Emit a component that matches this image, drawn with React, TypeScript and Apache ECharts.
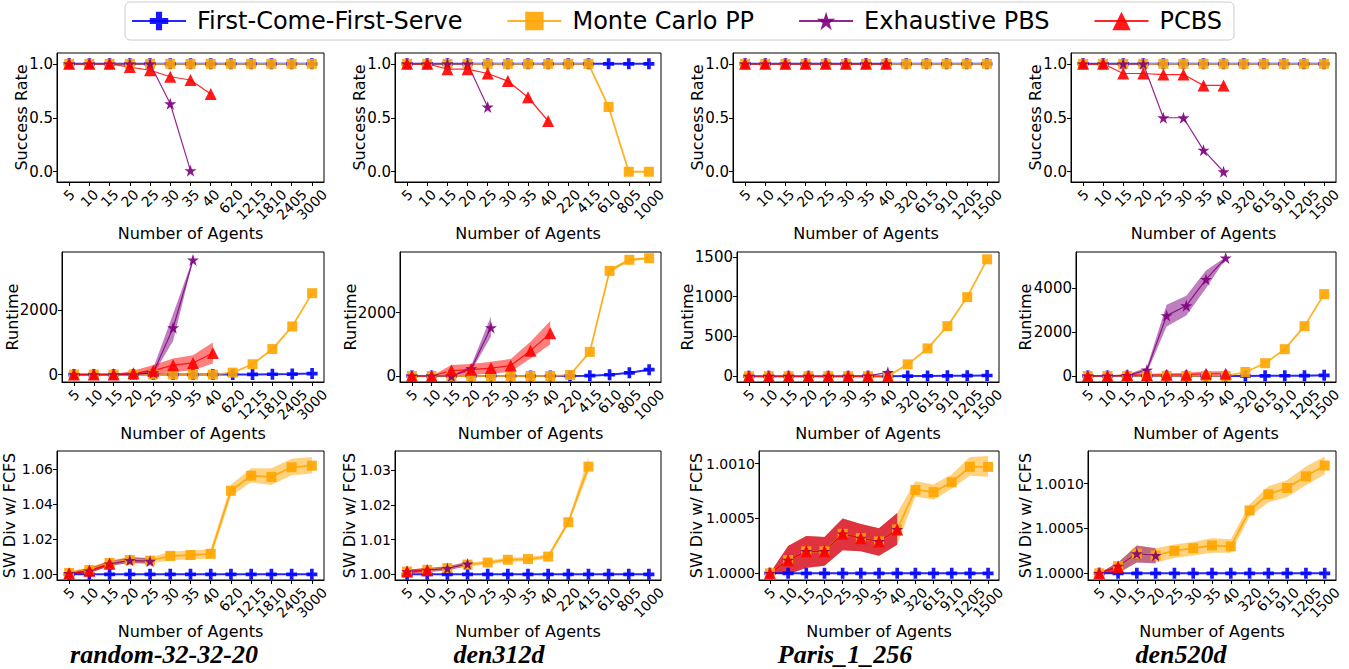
import React, { useEffect, useRef } from 'react';
import * as echarts from 'echarts';

// ---------- legend / method names ----------
const methodNames = ['First-Come-First-Serve', 'Monte Carlo PP', 'Exhaustive PBS', 'PCBS'];
const mapTitles = ['random-32-32-20', 'den312d', 'Paris_1_256', 'den520d'];

// ---------- x tick labels ----------
const xRandom = ['5', '10', '15', '20', '25', '30', '35', '40', '620', '1215', '1810', '2405', '3000'];
const xDen312d = ['5', '10', '15', '20', '25', '30', '35', '40', '220', '415', '610', '805', '1000'];
const xParis = ['5', '10', '15', '20', '25', '30', '35', '40', '320', '615', '910', '1205', '1500'];
const xDen520d = ['5', '10', '15', '20', '25', '30', '35', '40', '320', '615', '910', '1205', '1500'];

// ---------- y tick values ----------
const ySuccessTicks = [0, 0.5, 1.0];
const yRtRandomTicks = [0, 2000];
const yRtDen312dTicks = [0, 2000];
const yRtParisTicks = [0, 500, 1000, 1500];
const yRtDen520dTicks = [0, 2000, 4000];
const ySwRandomTicks = [1.0, 1.02, 1.04, 1.06];
const ySwDen312dTicks = [1.0, 1.01, 1.02, 1.03];
const ySwParisTicks = [1.0, 1.0005, 1.001];
const ySwDen520dTicks = [1.0, 1.0005, 1.001];

// ---------- Success rate ----------
const srRandomFCFS = [1, 1, 1, 1, 1, 1, 1, 1, 1, 1, 1, 1, 1];
const srRandomMCPP = [1, 1, 1, 1, 1, 1, 1, 1, 1, 1, 1, 1, 1];
const srRandomPBS = [1, 1, 1, 1, 1, 0.63, 0.01];
const srRandomPCBS = [1, 1, 1, 0.97, 0.94, 0.88, 0.85, 0.72];

const srDen312dFCFS = [1, 1, 1, 1, 1, 1, 1, 1, 1, 1, 1, 1, 1];
const srDen312dMCPP = [1, 1, 1, 1, 1, 1, 1, 1, 1, 1, 0.6, 0, 0];
const srDen312dPBS = [1, 1, 1, 1, 0.6];
const srDen312dPCBS = [1, 1, 0.95, 0.95, 0.91, 0.84, 0.69, 0.47];

const srParisFCFS = [1, 1, 1, 1, 1, 1, 1, 1, 1, 1, 1, 1, 1];
const srParisMCPP = [1, 1, 1, 1, 1, 1, 1, 1, 1, 1, 1, 1, 1];
const srParisPBS = [1, 1, 1, 1, 1, 1, 1, 1];
const srParisPCBS = [1, 1, 1, 1, 1, 1, 1, 1];

const srDen520dFCFS = [1, 1, 1, 1, 1, 1, 1, 1, 1, 1, 1, 1, 1];
const srDen520dMCPP = [1, 1, 1, 1, 1, 1, 1, 1, 1, 1, 1, 1, 1];
const srDen520dPBS = [1, 1, 1, 1, 0.5, 0.5, 0.2, 0.0];
const srDen520dPCBS = [1, 1, 0.91, 0.91, 0.9, 0.9, 0.8, 0.8];

// ---------- Runtime ----------
const rtRandomFCFS = [0, 0, 0, 0, 0, 0, 0, 0, 2, 5, 10, 15, 30];
const rtRandomMCPP = [0, 0, 0, 0, 0, 0, 0, 0, 60, 320, 790, 1490, 2520];
const rtRandomPBS = [0, 0, 0, 0, 60, 1450, 3550];
const rtRandomPBSLo = [0, 0, 0, 0, 0, 1050, 3520];
const rtRandomPBSHi = [0, 0, 0, 0, 200, 1880, 3590];
const rtRandomPCBS = [0, 0, 0, 40, 120, 290, 360, 670];
const rtRandomPCBSLo = [0, 0, 0, 0, 0, 80, 130, 340];
const rtRandomPCBSHi = [0, 0, 20, 120, 300, 500, 600, 990];

const rtDen312dFCFS = [0, 0, 0, 0, 0, 0, 0, 0, 0, 10, 40, 100, 200];
const rtDen312dMCPP = [0, 0, 0, 0, 0, 0, 0, 0, 30, 760, 3320, 3670, 3720];
const rtDen312dMCPPLo = [0, 0, 0, 0, 0, 0, 0, 0, 20, 740, 3250, 3630, 3690];
const rtDen312dMCPPHi = [0, 0, 0, 0, 0, 0, 0, 0, 40, 780, 3390, 3710, 3760];
const rtDen312dPBS = [0, 0, 0, 230, 1530];
const rtDen312dPBSLo = [0, 0, 0, 150, 1250];
const rtDen312dPBSHi = [0, 0, 0, 330, 1880];
const rtDen312dPCBS = [0, 0, 170, 200, 250, 330, 800, 1350];
const rtDen312dPCBSLo = [0, 0, 0, 30, 80, 130, 550, 1000];
const rtDen312dPCBSHi = [0, 0, 350, 380, 450, 540, 1080, 1740];

const rtParisFCFS = [0, 0, 0, 0, 0, 0, 0, 0, 2, 4, 6, 8, 10];
const rtParisMCPP = [0, 0, 0, 0, 0, 0, 0, 0, 150, 350, 630, 995, 1470];
const rtParisPBS = [0, 0, 0, 0, 0, 0, 5, 50];
const rtParisPCBS = [0, 0, 0, 0, 0, 0, 0, 0];

const rtDen520dFCFS = [0, 0, 0, 0, 0, 0, 0, 0, 0, 5, 10, 15, 30];
const rtDen520dMCPP = [0, 0, 0, 0, 0, 0, 0, 0, 180, 580, 1220, 2270, 3730];
const rtDen520dPBS = [0, 0, 30, 270, 2750, 3200, 4400, 5380];
const rtDen520dPBSLo = [0, 0, 0, 150, 2250, 2750, 4000, 5340];
const rtDen520dPBSHi = [0, 0, 60, 400, 3250, 3650, 4800, 5420];
const rtDen520dPCBS = [0, 0, 40, 40, 50, 60, 100, 100];
const rtDen520dPCBSLo = [0, 0, 0, 0, 0, 0, 0, 0];
const rtDen520dPCBSHi = [0, 0, 100, 100, 120, 150, 220, 220];

// ---------- SW Div w/ FCFS ----------
const swRandomFCFS = [1, 1, 1, 1, 1, 1, 1, 1, 1, 1, 1, 1, 1];
const swRandomMCPP = [1.0008, 1.0025, 1.0065, 1.0082, 1.0078, 1.0105, 1.011, 1.0117, 1.0477, 1.0563, 1.0556, 1.0611, 1.062];
const swRandomMCPPLo = [0.9998, 1.001, 1.005, 1.0064, 1.0062, 1.008, 1.0085, 1.009, 1.0445, 1.0525, 1.051, 1.0565, 1.0575];
const swRandomMCPPHi = [1.0018, 1.004, 1.008, 1.01, 1.0094, 1.013, 1.0135, 1.0144, 1.0512, 1.0605, 1.0605, 1.066, 1.067];
const swRandomPBS = [1.0005, 1.002, 1.006, 1.008, 1.0075];
const swRandomPBSLo = [0.9998, 1.0008, 1.0048, 1.0064, 1.006];
const swRandomPBSHi = [1.0012, 1.0035, 1.0075, 1.0098, 1.0092];
const swRandomPCBS = [1.0005, 1.002, 1.006];
const swRandomPCBSLo = [0.9998, 1.0008, 1.0048];
const swRandomPCBSHi = [1.0012, 1.0035, 1.0075];

const swDen312dFCFS = [1, 1, 1, 1, 1, 1, 1, 1, 1, 1, 1, 1, 1];
const swDen312dMCPP = [1.0008, 1.0013, 1.0018, 1.0028, 1.0034, 1.0042, 1.0044, 1.0051, 1.015, 1.031];
const swDen312dMCPPLo = [1.0003, 1.0008, 1.0013, 1.0023, 1.0028, 1.0036, 1.0038, 1.0045, 1.0143, 1.0293];
const swDen312dMCPPHi = [1.0013, 1.0018, 1.0023, 1.0033, 1.004, 1.0048, 1.005, 1.0057, 1.0157, 1.0338];
const swDen312dPBS = [1.0008, 1.0012, 1.0017, 1.003];
const swDen312dPBSLo = [1.0003, 1.0006, 1.0011, 1.0024];
const swDen312dPBSHi = [1.0013, 1.0018, 1.0023, 1.0036];
const swDen312dPCBS = [1.0008, 1.0012];
const swDen312dPCBSLo = [1.0003, 1.0006];
const swDen312dPCBSHi = [1.0013, 1.0018];

const swParisFCFS = [1, 1, 1, 1, 1, 1, 1, 1, 1, 1, 1, 1, 1];
const swParisMCPP = [1.0, 1.00012, 1.0002, 1.0002, 1.00036, 1.00032, 1.00029, 1.0004, 1.00076, 1.00074, 1.00083, 1.00097, 1.00097];
const swParisMCPPLo = [1.0, 0.99999, 1.00005, 1.00007, 1.00021, 1.0002, 1.00016, 1.00026, 1.0007, 1.00067, 1.00077, 1.00089, 1.00088];
const swParisMCPPHi = [1.0, 1.00025, 1.00034, 1.00033, 1.0005, 1.00045, 1.00041, 1.00055, 1.00084, 1.00081, 1.0009, 1.00106, 1.00107];
const swParisPBS = [1.0, 1.00012, 1.0002, 1.0002, 1.00036, 1.00032, 1.00029, 1.0004];
const swParisPBSLo = [1.0, 0.99999, 1.00005, 1.00007, 1.00021, 1.0002, 1.00016, 1.00026];
const swParisPBSHi = [1.0, 1.00025, 1.00034, 1.00033, 1.0005, 1.00045, 1.00041, 1.00055];
const swParisPCBS = [1.0, 1.00012, 1.0002, 1.0002, 1.00036, 1.00032, 1.00029, 1.0004];
const swParisPCBSLo = [1.0, 0.99999, 1.00005, 1.00007, 1.00021, 1.0002, 1.00016, 1.00026];
const swParisPCBSHi = [1.0, 1.00025, 1.00034, 1.00033, 1.0005, 1.00045, 1.00041, 1.00055];

const swDen520dFCFS = [1, 1, 1, 1, 1, 1, 1, 1, 1, 1, 1, 1, 1];
const swDen520dMCPP = [1.0, 1.00008, 1.00022, 1.0002, 1.00025, 1.00028, 1.00031, 1.0003, 1.0007, 1.00088, 1.00095, 1.00108, 1.0012];
const swDen520dMCPPLo = [1.0, 1.0, 1.00012, 1.00012, 1.00017, 1.0002, 1.00023, 1.00023, 1.00063, 1.00079, 1.00085, 1.00098, 1.0011];
const swDen520dMCPPHi = [1.0, 1.00012, 1.00031, 1.00028, 1.00032, 1.00035, 1.00039, 1.00038, 1.00077, 1.00097, 1.00104, 1.00119, 1.0013];
const swDen520dPBS = [1.0, 1.00008, 1.00022, 1.0002];
const swDen520dPBSLo = [1.0, 1.0, 1.00012, 1.00011];
const swDen520dPBSHi = [1.0, 1.00012, 1.00031, 1.00028];
const swDen520dPCBS = [1.0, 1.00007];
const swDen520dPCBSLo = [1.0, 1.0];
const swDen520dPCBSHi = [1.0, 1.00012];

// ---------- styling ----------
const COLORS = ['#0000ff', '#ffa500', '#800080', '#ff0000'];
const PLUS = 'path://M1,0H2V1H3V2H2V3H1V2H0V1H1Z';
const STAR = 'path://M1,0L1.2233,0.6926L1.9511,0.691L1.3614,1.1174L1.5878,1.809L1,1.38L0.4122,1.809L0.6386,1.1174L0.0489,0.691L0.7767,0.6926Z';
const SYMBOLS = [PLUS, 'rect', STAR, 'triangle'];
const SYMBOL_SIZES = [11, 10, 12, 12];
const LINE_WIDTHS = [2, 1.8, 1.2, 1.2];
const FONT = 'DejaVu Sans';

type S = { mean: number[]; lo?: number[]; hi?: number[] };
type Panel = {
  x: string[];
  s: S[];
  yMin: number;
  yMax: number;
  yTicks: number[];
  dec: number;
  yName: string;
  box: [number, number, number, number]; // left, top, right, bottom
  nameGap: number;
  xNameGap: number;
};

const panels: Panel[] = [
  // row 1: success rate
  { x: xRandom, s: [{ mean: srRandomFCFS }, { mean: srRandomMCPP }, { mean: srRandomPBS }, { mean: srRandomPCBS }], yMin: -0.095, yMax: 1.1, yTicks: ySuccessTicks, dec: 1, yName: 'Success Rate', box: [57, 53, 324, 182], nameGap: 28, xNameGap: 39 },
  { x: xDen312d, s: [{ mean: srDen312dFCFS }, { mean: srDen312dMCPP }, { mean: srDen312dPBS }, { mean: srDen312dPCBS }], yMin: -0.095, yMax: 1.1, yTicks: ySuccessTicks, dec: 1, yName: 'Success Rate', box: [395, 53, 661, 182], nameGap: 28, xNameGap: 39 },
  { x: xParis, s: [{ mean: srParisFCFS }, { mean: srParisMCPP }, { mean: srParisPBS }, { mean: srParisPCBS }], yMin: -0.095, yMax: 1.1, yTicks: ySuccessTicks, dec: 1, yName: 'Success Rate', box: [733, 53, 999, 182], nameGap: 28, xNameGap: 39 },
  { x: xDen520d, s: [{ mean: srDen520dFCFS }, { mean: srDen520dMCPP }, { mean: srDen520dPBS }, { mean: srDen520dPCBS }], yMin: -0.095, yMax: 1.1, yTicks: ySuccessTicks, dec: 1, yName: 'Success Rate', box: [1071, 53, 1336, 182], nameGap: 28, xNameGap: 39 },
  // row 2: runtime
  { x: xRandom, s: [{ mean: rtRandomFCFS }, { mean: rtRandomMCPP }, { mean: rtRandomPBS, lo: rtRandomPBSLo, hi: rtRandomPBSHi }, { mean: rtRandomPCBS, lo: rtRandomPCBSLo, hi: rtRandomPCBSHi }], yMin: -230, yMax: 3794, yTicks: yRtRandomTicks, dec: 0, yName: 'Runtime', box: [62, 252, 324, 382], nameGap: 42, xNameGap: 39 },
  { x: xDen312d, s: [{ mean: rtDen312dFCFS }, { mean: rtDen312dMCPP, lo: rtDen312dMCPPLo, hi: rtDen312dMCPPHi }, { mean: rtDen312dPBS, lo: rtDen312dPBSLo, hi: rtDen312dPBSHi }, { mean: rtDen312dPCBS, lo: rtDen312dPCBSLo, hi: rtDen312dPCBSHi }], yMin: -190, yMax: 3917, yTicks: yRtDen312dTicks, dec: 0, yName: 'Runtime', box: [400, 252, 661, 382], nameGap: 42, xNameGap: 39 },
  { x: xParis, s: [{ mean: rtParisFCFS }, { mean: rtParisMCPP }, { mean: rtParisPBS }, { mean: rtParisPCBS }], yMin: -72, yMax: 1562, yTicks: yRtParisTicks, dec: 0, yName: 'Runtime', box: [737, 252, 999, 382], nameGap: 42, xNameGap: 39 },
  { x: xDen520d, s: [{ mean: rtDen520dFCFS }, { mean: rtDen520dMCPP }, { mean: rtDen520dPBS, lo: rtDen520dPBSLo, hi: rtDen520dPBSHi }, { mean: rtDen520dPCBS, lo: rtDen520dPCBSLo, hi: rtDen520dPCBSHi }], yMin: -275, yMax: 5648, yTicks: yRtDen520dTicks, dec: 0, yName: 'Runtime', box: [1076, 252, 1336, 382], nameGap: 43, xNameGap: 39 },
  // row 3: SW div
  { x: xRandom, s: [{ mean: swRandomFCFS }, { mean: swRandomMCPP, lo: swRandomMCPPLo, hi: swRandomMCPPHi }, { mean: swRandomPBS, lo: swRandomPBSLo, hi: swRandomPBSHi }, { mean: swRandomPCBS, lo: swRandomPCBSLo, hi: swRandomPCBSHi }], yMin: 0.99675, yMax: 1.0704, yTicks: ySwRandomTicks, dec: 2, yName: 'SW Div w/ FCFS', box: [57, 451, 324, 580], nameGap: 40, xNameGap: 38 },
  { x: xDen312d, s: [{ mean: swDen312dFCFS }, { mean: swDen312dMCPP, lo: swDen312dMCPPLo, hi: swDen312dMCPPHi }, { mean: swDen312dPBS, lo: swDen312dPBSLo, hi: swDen312dPBSHi }, { mean: swDen312dPCBS, lo: swDen312dPCBSLo, hi: swDen312dPCBSHi }], yMin: 0.99837, yMax: 1.0355, yTicks: ySwDen312dTicks, dec: 2, yName: 'SW Div w/ FCFS', box: [395, 451, 661, 580], nameGap: 38, xNameGap: 38 },
  { x: xParis, s: [{ mean: swParisFCFS }, { mean: swParisMCPP, lo: swParisMCPPLo, hi: swParisMCPPHi }, { mean: swParisPBS, lo: swParisPBSLo, hi: swParisPBSHi }, { mean: swParisPCBS, lo: swParisPCBSLo, hi: swParisPCBSHi }], yMin: 0.999939, yMax: 1.001115, yTicks: ySwParisTicks, dec: 4, yName: 'SW Div w/ FCFS', box: [759, 451, 999, 580], nameGap: 55, xNameGap: 38 },
  { x: xDen520d, s: [{ mean: swDen520dFCFS }, { mean: swDen520dMCPP, lo: swDen520dMCPPLo, hi: swDen520dMCPPHi }, { mean: swDen520dPBS, lo: swDen520dPBSLo, hi: swDen520dPBSHi }, { mean: swDen520dPCBS, lo: swDen520dPCBSLo, hi: swDen520dPCBSHi }], yMin: 0.999926, yMax: 1.001362, yTicks: ySwDen520dTicks, dec: 4, yName: 'SW Div w/ FCFS', box: [1088, 451, 1336, 580], nameGap: 55, xNameGap: 38 },
];

const titlePos = [[164, 654], [499, 654], [845, 654], [1181, 654]];

const X_FS = 14;
const CHAR_W = 0.636 * X_FS;
const richX: any = {};
for (let n = 1; n <= 4; n++) {
  const p = 0.5 * n * CHAR_W;
  richX['l' + n] = { fontSize: X_FS, fontFamily: FONT, color: '#000', padding: [p, p, 0, 0] };
}

function buildOption() {
  const grid: any[] = [];
  const xAxis: any[] = [];
  const yAxis: any[] = [];
  const series: any[] = [];
  panels.forEach((p, k) => {
    const [l, t, r, b] = p.box;
    grid.push({ left: l, top: t, width: r - l, height: b - t, show: true, borderColor: '#000', borderWidth: 1, containLabel: false });
    const xMin = -0.6;
    const xMax = p.x.length - 0.4;
    const idx = p.x.map((_, i) => i);
    // guard values at both ends (hidden) so real first/last labels are never dropped
    const withGuards = [xMin + 0.01, ...idx, xMax - 0.01];
    xAxis.push({
      type: 'value', gridIndex: k, min: xMin, max: xMax,
      axisLine: { show: true, onZero: false, lineStyle: { color: '#000', width: 1 } },
      axisTick: { show: true, customValues: withGuards, length: 4, lineStyle: { color: '#000', width: 1 } },
      axisLabel: {
        customValues: withGuards, rotate: 45, align: 'center', verticalAlign: 'middle', margin: 10,
        showMinLabel: false, showMaxLabel: false, hideOverlap: false,
        fontSize: X_FS, fontFamily: FONT, color: '#000',
        formatter: (v: number) => {
          if (Math.abs(v - Math.round(v)) > 1e-6) return '';
          const s = p.x[Math.round(v)] ?? '';
          return `{l${s.length}|${s}}`;
        },
        rich: richX,
      },
      splitLine: { show: false },
      name: 'Number of Agents', nameLocation: 'middle', nameGap: p.xNameGap,
      nameTextStyle: { fontSize: 16, fontFamily: FONT, color: '#000' },
    });
    yAxis.push({
      type: 'value', gridIndex: k, min: p.yMin, max: p.yMax,
      axisLine: { show: true, onZero: false, lineStyle: { color: '#000', width: 1 } },
      axisTick: { show: true, customValues: p.yTicks, length: 4, lineStyle: { color: '#000', width: 1 } },
      axisLabel: {
        customValues: p.yTicks, margin: 4, fontSize: p.dec >= 2 ? 14 : 15, fontFamily: FONT, color: '#000',
        showMinLabel: true, showMaxLabel: true,
        formatter: (v: number) => v.toFixed(p.dec),
      },
      splitLine: { show: false },
      name: p.yName, nameLocation: 'middle', nameRotate: 90, nameGap: p.nameGap, nameMoveOverlap: false,
      nameTextStyle: { fontSize: 16, fontFamily: FONT, color: '#000' },
    });
    // bands first
    p.s.forEach((s, m) => {
      if (!s.lo || !s.hi) return;
      const lo = s.lo;
      const hi = s.hi;
      series.push({
        type: 'custom', xAxisIndex: k, yAxisIndex: k, silent: true, z: 1,
        data: lo.map((v, i) => [i, v, hi[i]]),
        encode: { x: 0, y: [1, 2] },
        renderItem: (params: any, api: any) => {
          if (params.dataIndex !== 0) return null;
          const pts: number[][] = [];
          for (let i = 0; i < hi.length; i++) pts.push(api.coord([i, hi[i]]));
          for (let i = lo.length - 1; i >= 0; i--) pts.push(api.coord([i, lo[i]]));
          return { type: 'polygon', shape: { points: pts }, style: { fill: COLORS[m], opacity: 0.5 } };
        },
      });
    });
    p.s.forEach((s, m) => {
      series.push({
        type: 'line', name: methodNames[m], xAxisIndex: k, yAxisIndex: k, z: 2,
        data: s.mean.map((v, i) => [i, v]),
        symbol: SYMBOLS[m], symbolSize: SYMBOL_SIZES[m], showSymbol: true,
        itemStyle: { color: COLORS[m], borderWidth: 0, opacity: 0.9 },
        lineStyle: { color: COLORS[m], width: LINE_WIDTHS[m], opacity: 0.85 },
        emphasis: { disabled: true },
      });
    });
  });

  const graphic = mapTitles.map((t, i) => ({
    type: 'text', x: titlePos[i][0], y: titlePos[i][1],
    style: { text: t, font: 'italic bold 26px "Liberation Serif"', fill: '#000', textAlign: 'center', textVerticalAlign: 'middle' },
  }));

  return {
    animation: false,
    backgroundColor: '#fff',
    legend: {
      data: methodNames, top: 2, left: 125, width: 1120,
      itemWidth: 54, itemHeight: 23, itemGap: 44,
      textStyle: { fontSize: 24, fontFamily: FONT, color: '#000', padding: [0, 0, 0, 6] },
      borderColor: '#ccc', borderWidth: 1, borderRadius: 5, padding: [7, 12, 7, 6],
      selectedMode: false,
    },
    grid, xAxis, yAxis, series, graphic,
  };
}

export default function App() {
  const ref = useRef<HTMLDivElement>(null);
  useEffect(() => {
    if (!ref.current) return;
    const chart = echarts.init(ref.current, undefined, { renderer: 'svg' });
    chart.setOption(buildOption() as any);
    return () => chart.dispose();
  }, []);
  return <div ref={ref} style={{ position: 'fixed', left: 0, top: 0, width: 1349, height: 669 }} />;
}
